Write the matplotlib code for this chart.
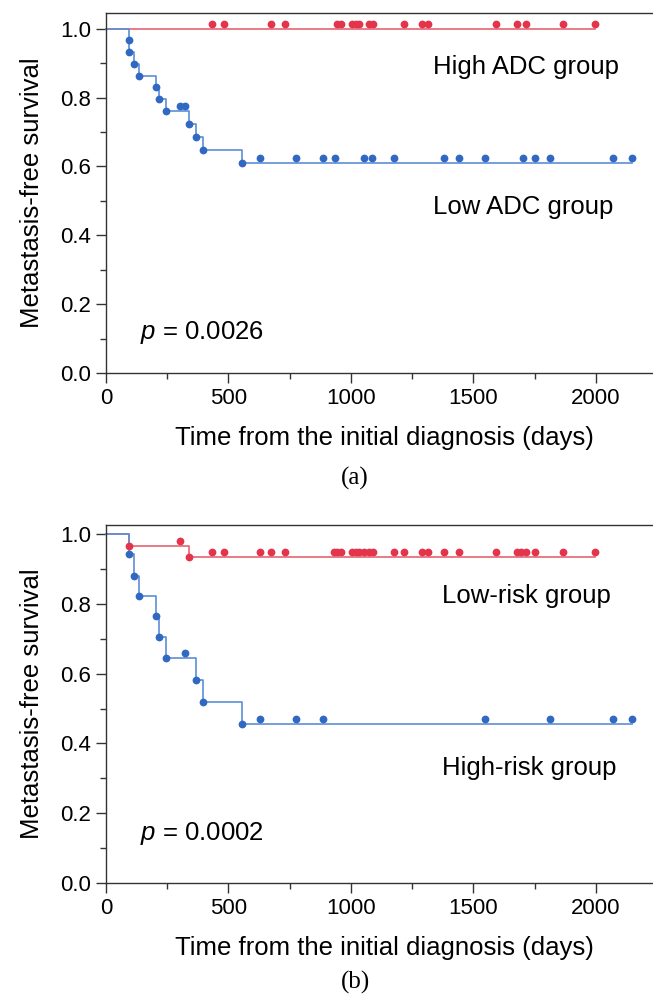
import matplotlib
matplotlib.use("Agg")
import matplotlib.pyplot as plt
import matplotlib.transforms as mtransforms
from matplotlib.ticker import MultipleLocator, FormatStrFormatter
import numpy as np

plt.rcParams['font.family'] = ['Liberation Sans', 'DejaVu Sans']
plt.rcParams['mathtext.fontset'] = 'custom'
plt.rcParams['mathtext.it'] = 'Liberation Sans:italic'
plt.rcParams['mathtext.rm'] = 'Liberation Sans'

# (a) ADC groups
low_adc_event_days = [95, 95, 116, 136, 205, 218, 245, 339, 366, 397, 554]
low_adc_surv = [0.967, 0.933, 0.898, 0.864, 0.830, 0.795, 0.761, 0.724, 0.686, 0.647, 0.610]
low_adc_censor_days = [302, 324, 629, 776, 884, 935, 1053, 1086, 1176, 1380, 1440,
                       1547, 1703, 1752, 1812, 2071, 2148]
high_adc_event_days = []
high_adc_surv = []
high_adc_censor_days = [434, 480, 675, 729, 941, 958, 1003, 1019, 1034, 1075, 1091,
                        1216, 1288, 1316, 1591, 1676, 1714, 1864, 1996]

# (b) risk groups
high_risk_event_days = [95, 116, 136, 205, 218, 245, 366, 397, 554]
high_risk_surv = [0.942, 0.880, 0.822, 0.764, 0.705, 0.646, 0.581, 0.518, 0.455]
high_risk_censor_days = [324, 629, 776, 884, 1547, 1812, 2071, 2148]
low_risk_event_days = [95, 339]
low_risk_surv = [0.967, 0.933]
low_risk_censor_days = [302, 434, 480, 629, 675, 729, 930, 945, 958, 1003, 1019, 1034,
                        1053, 1075, 1091, 1176, 1216, 1288, 1316, 1380, 1440, 1591,
                        1676, 1696, 1714, 1752, 1864, 1996]

BLUE_LINE, BLUE_DOT = '#5b8ed8', '#3168c2'
RED_LINE, RED_DOT = '#e56572', '#e3344b'

W, H = 653, 994
fig = plt.figure(figsize=(W / 100, H / 100), dpi=100)


def px_axes(left, top, right, bottom):
    return fig.add_axes([left / W, 1 - bottom / H, (right - left) / W, (bottom - top) / H])


def draw_group(ax, ev_days, surv, cens_days, line_c, dot_c):
    end = max(cens_days + ev_days)
    xs = [0] + list(ev_days) + [end]
    ys = [1.0] + list(surv) + [surv[-1] if surv else 1.0]
    ax.step(xs, ys, where='post', color=line_c, lw=1.2, zorder=2, clip_on=False)
    if ev_days:
        ax.plot(ev_days, surv, 'o', ms=5.6, color=dot_c, mec='none', zorder=3)
    # survival level at each censoring time, markers drawn a bit above the line
    levels = np.array([1.0] + list(surv))
    idx = np.searchsorted(np.array(ev_days, dtype=float), cens_days, side='right')
    cy = levels[idx]
    up = mtransforms.offset_copy(ax.transData, fig=fig, y=3.6, units='points')
    ax.plot(cens_days, cy, 'o', ms=5.6, color=dot_c, mec='none', zorder=3,
            transform=up, clip_on=False)


def style_axes(ax, ytop):
    ax.set_xlim(0, 2233)
    ax.set_ylim(0, ytop)
    for s in ['left', 'top', 'bottom']:
        ax.spines[s].set_color('#333333')
        ax.spines[s].set_linewidth(1.0)
    ax.spines['right'].set_visible(False)
    ax.xaxis.set_major_locator(MultipleLocator(500))
    ax.xaxis.set_minor_locator(MultipleLocator(250))
    ax.yaxis.set_major_locator(MultipleLocator(0.2))
    ax.yaxis.set_minor_locator(MultipleLocator(0.1))
    ax.yaxis.set_major_formatter(FormatStrFormatter('%.1f'))
    ax.tick_params(which='major', direction='out', length=7.5, width=1.0,
                   color='#333333', labelsize=16, pad=3)
    ax.tick_params(which='minor', direction='out', length=4.5, width=1.0, color='#333333')
    ax.tick_params(axis='y', which='both', right=False)
    ax.tick_params(axis='x', which='both', top=False)


# top panel
ax1 = px_axes(106, 13, 653, 373)
draw_group(ax1, high_adc_event_days, high_adc_surv, high_adc_censor_days, RED_LINE, RED_DOT)
draw_group(ax1, low_adc_event_days, low_adc_surv, low_adc_censor_days, BLUE_LINE, BLUE_DOT)
style_axes(ax1, 1.046)
ax1.text(1335, 0.89, 'High ADC group', fontsize=18.5, va='center', ha='left')
ax1.text(1335, 0.481, 'Low ADC group', fontsize=18.5, va='center', ha='left')
ax1.text(139, 0.119, '$p$ = 0.0026', fontsize=18.5, va='center', ha='left')

# bottom panel
ax2 = px_axes(106, 525, 653, 883)
draw_group(ax2, low_risk_event_days, low_risk_surv, low_risk_censor_days, RED_LINE, RED_DOT)
draw_group(ax2, high_risk_event_days, high_risk_surv, high_risk_censor_days, BLUE_LINE, BLUE_DOT)
style_axes(ax2, 1.026)
ax2.text(1371, 0.822, 'Low-risk group', fontsize=18.5, va='center', ha='left')
ax2.text(1371, 0.33, 'High-risk group', fontsize=18.5, va='center', ha='left')
ax2.text(139, 0.143, '$p$ = 0.0002', fontsize=18.5, va='center', ha='left')

# axis labels and panel captions
for cy_lab, cy_x, cy_cap, cap in [(193, 438, 478, '(a)'), (704, 948, 982, '(b)')]:
    fig.text(32 / W, 1 - cy_lab / H, 'Metastasis-free survival', rotation=90,
             fontsize=18.5, ha='center', va='center')
    fig.text(384 / W, 1 - cy_x / H, 'Time from the initial diagnosis (days)',
             fontsize=18.5, ha='center', va='center')
    fig.text(355 / W, 1 - cy_cap / H, cap, family='Liberation Serif',
             fontsize=18, ha='center', va='center')

fig.savefig('out.png', dpi=100)
plt.close(fig)
